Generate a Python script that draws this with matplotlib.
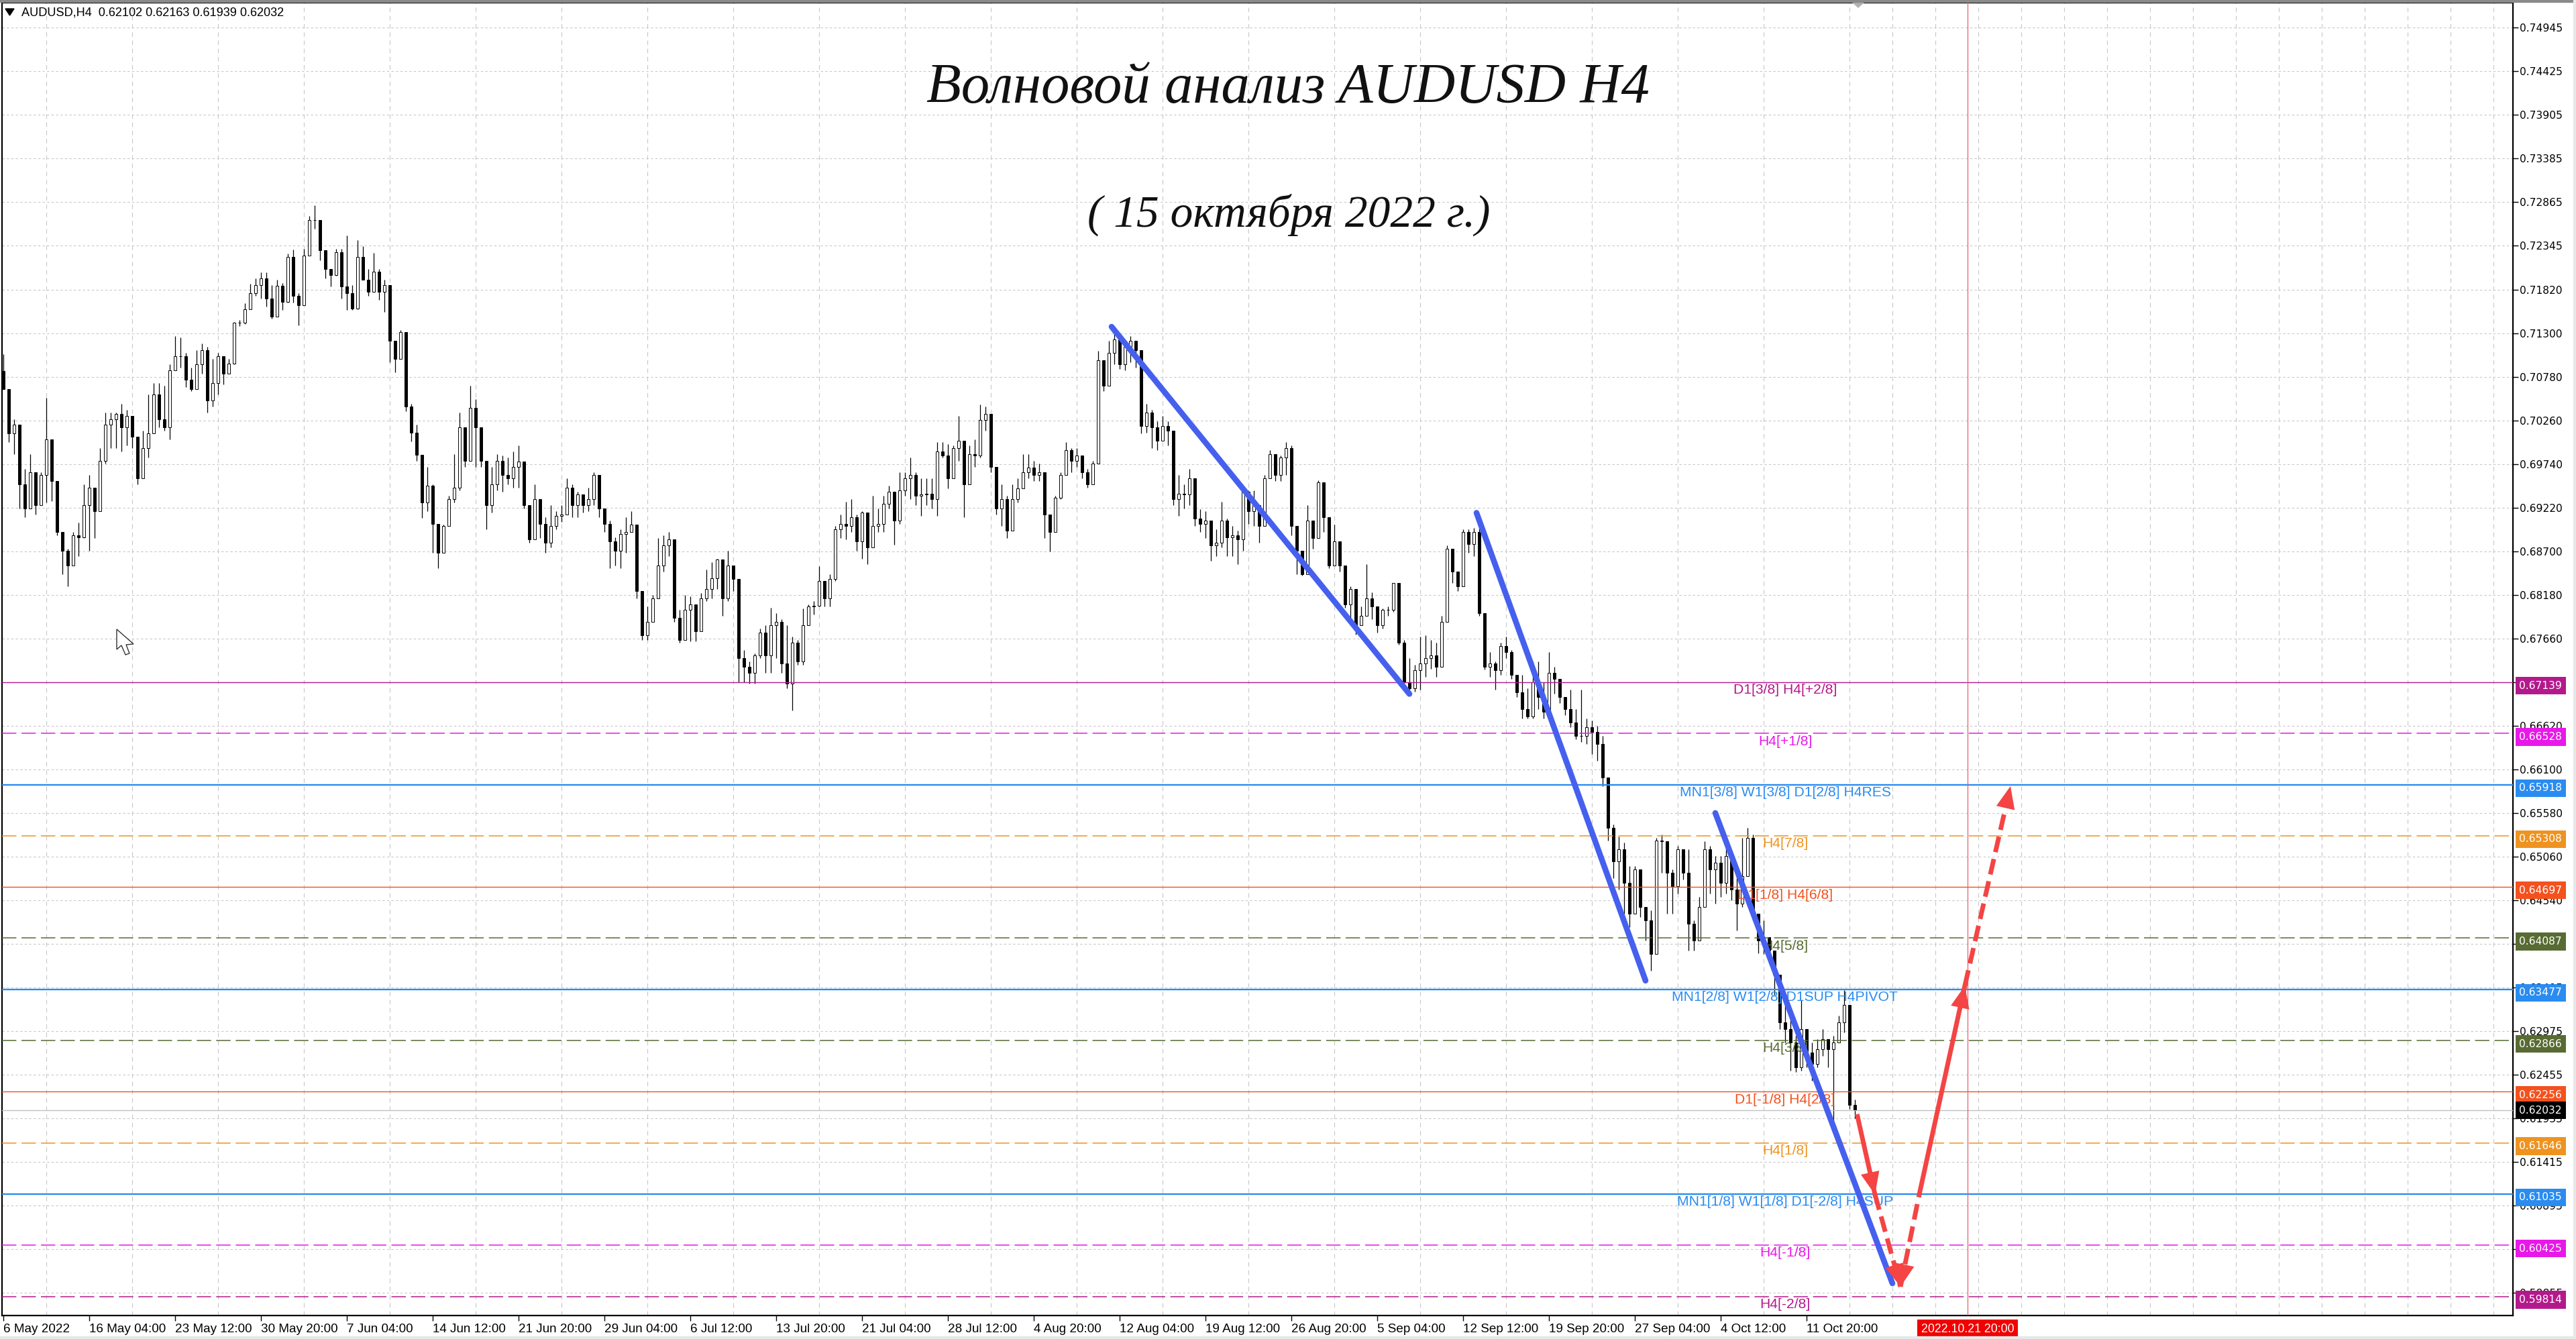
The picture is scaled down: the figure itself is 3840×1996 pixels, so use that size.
import numpy as np
import matplotlib
matplotlib.use('Agg')
import matplotlib.pyplot as plt
from matplotlib.patches import Polygon, Rectangle

W, H = 3840, 1996

# H4 candles, one candle for every second bar
close = [
    .7064, .7011, .7021, .6950, .6921, .6964, .6925, .6961, .7004, .6954,
    .6893, .6871, .6853, .6889, .6887, .6925, .6946, .6918, .6978, .7021,
    .7028, .7034, .7018, .7032, .7007, .6957, .6993, .7011, .7057, .7028,
    .7018, .7086, .7103, .7103, .7075, .7064, .7093, .7110, .7050, .7071,
    .7103, .7082, .7094, .7143, .7143, .7159,
    .7178, .7188, .7196, .7172, .7150, .7187, .7168, .7221, .7175, .7164,
    .7223, .7265, .7265, .7229, .7207, .7200, .7227, .7186, .7178, .7160,
    .7221, .7194, .7180, .7204, .7180, .7188, .7121,
    .7100, .7132, .7043, .7012, .6985, .6928, .6948, .6903, .6868, .6900,
    .6932, .6946, .7018, .6978, .7041, .7018, .6978, .6925, .6950, .6978,
    .6961, .6957, .6971, .6977, .6925, .6884, .6932, .6903, .6880, .6900,
    .6912, .6914, .6946, .6925, .6938, .6925, .6932, .6961, .6921, .6903,
    .6882, .6871, .6891, .6893, .6902, .6823, .6770, .6786, .6814, .6853,
    .6877, .6884, .6791, .6764, .6800, .6807, .6775, .6814, .6825, .6838,
    .6860, .6814, .6853, .6837, .6743, .6732, .6725, .6746, .6773, .6746,
    .6782, .6786, .6736, .6712, .6761, .6739, .6782, .6804, .6805, .6835,
    .6814, .6837, .6896, .6903, .6900, .6911, .6882, .6916, .6875,
    .6900, .6903, .6927, .6941, .6907, .6943, .6957, .6961, .6936, .6938,
    .6939, .6932, .6989, .6984, .6957, .6993, .7002, .6950, .6986, .6984,
    .7027, .7034, .6971, .6921, .6932, .6895, .6932, .6945, .6964, .6970,
    .6961, .6964, .6914, .6893, .6934, .6961, .6991, .6978, .6984, .6964,
    .6950, .6975, .7098, .7068, .7107, .7123, .7093, .7114, .7121, .7110,
    .7020, .7036, .7018, .7002, .7020, .7014, .6932, .6939, .6938, .6957,
    .6909, .6903, .6907, .6877, .6880, .6907, .6887, .6889, .6884, .6941,
    .6918, .6925, .6900, .6957, .6986, .6961, .6982, .6993, .6900, .6871,
    .6843, .6907, .6886, .6952, .6911, .6853, .6882, .6853, .6807, .6825,
    .6782, .6793, .6814, .6804, .6782, .6800, .6800, .6832, .6761, .6714,
    .6707, .6728, .6736, .6743, .6746, .6732, .6786, .6873, .6846, .6828,
    .6893, .6879, .6893, .6796, .6732, .6736, .6728, .6757, .6750, .6723,
    .6702, .6682, .6673, .6714, .6696, .6679, .6725, .6718, .6696, .6682,
    .6666, .6650,
    .6650, .6660, .6655, .6640, .6600, .6540,
    .6500, .6515, .6475, .6438, .6491, .6446, .6430, .6390, .6525, .6524,
    .6487, .6471, .6515, .6487, .6426, .6406, .6446, .6515, .6491, .6499,
    .6475, .6507, .6467, .6450, .6483, .6528, .6438, .6406, .6410, .6394,
    .6365, .6308, .6300, .6284, .6255, .6300, .6272, .6259, .6276, .6288,
    .6276, .6284, .6308, .6329, .62102, .62032,
]
high = [
    .7105, .7064, .7028, .6993, .6968, .6986, .6964, .6964, .7053, .6961,
    .6939, .6893, .6873, .6893, .6904, .6950, .6961, .6932, .6993, .7036,
    .7036, .7036, .7046, .7039, .7021, .7007, .7014, .7057, .7071, .7071,
    .7068, .7093, .7127, .7125, .7107, .7089, .7110, .7118, .7114, .7100,
    .7107, .7096, .7100, .7144, .7146, .7166,
    .7189, .7196, .7203, .7203, .7188, .7194, .7190, .7225, .7230, .7178,
    .7231, .7270, .7283, .7261, .7220, .7207, .7231, .7231, .7247, .7188,
    .7241, .7234, .7207, .7226, .7207, .7194, .7147,
    .7104, .7134, .7132, .7046, .7021, .6985, .6971, .6950, .6903, .6902,
    .6936, .6986, .7036, .7018, .7068, .7052, .6996, .6978, .6971, .6986,
    .6984, .6982, .6989, .6996, .6964, .6925, .6950, .6925, .6911, .6925,
    .6918, .6925, .6957, .6950, .6941, .6932, .6946, .6964, .6954, .6921,
    .6907, .6887, .6896, .6911, .6918, .6893, .6823, .6804, .6818, .6886,
    .6889, .6893, .6884, .6800, .6818, .6816, .6796, .6820, .6848, .6857,
    .6861, .6843, .6871, .6850, .6825, .6752, .6739, .6748, .6778, .6782,
    .6803, .6796, .6789, .6782, .6768, .6764, .6802, .6807, .6811, .6852,
    .6835, .6843, .6900, .6914, .6929, .6932, .6914, .6918, .6914,
    .6936, .6921, .6936, .6948, .6936, .6964, .6964, .6982, .6964, .6957,
    .6957, .6957, .7000, .7000, .6998, .6996, .7032, .7002, .6996, .7004,
    .7045, .7043, .7021, .6964, .6950, .6936, .6950, .6957, .6986, .6986,
    .6978, .6975, .6964, .6914, .6936, .6964, .7000, .6993, .6993, .6978,
    .6968, .6978, .7109, .7089, .7121, .7137, .7127, .7121, .7127, .7121,
    .7110, .7046, .7039, .7025, .7032, .7025, .7014, .6961, .6950, .6968,
    .6957, .6920, .6918, .6907, .6896, .6929, .6909, .6900, .6895, .6945,
    .6943, .6943, .6925, .6961, .6991, .6986, .6984, .7000, .6996, .6900,
    .6871, .6925, .6907, .6955, .6948, .6902, .6902, .6868, .6846, .6828,
    .6814, .6804, .6855, .6821, .6804, .6802, .6804, .6832, .6814, .6764,
    .6743, .6735, .6768, .6770, .6764, .6761, .6793, .6877, .6852, .6846,
    .6896, .6896, .6898, .6898, .6796, .6750, .6739, .6761, .6768, .6752,
    .6723, .6723, .6707, .6739, .6739, .6714, .6750, .6732, .6718, .6696,
    .6705, .6682,
    .6705, .6671, .6668, .6662, .6650, .6600,
    .6544, .6530, .6523, .6495, .6495, .6491, .6442, .6442, .6528, .6532,
    .6515, .6491, .6519, .6515, .6515, .6430, .6458, .6524, .6519, .6507,
    .6507, .6524, .6507, .6495, .6528, .6540, .6532, .6434, .6430, .6410,
    .6381, .6349, .6329, .6320, .6292, .6335, .6300, .6284, .6288, .6300,
    .6288, .6292, .6316, .6347, .6325, .62163,
]
low = [
    .7064, .7000, .6986, .6921, .6911, .6928, .6914, .6928, .6928, .6930,
    .6889, .6843, .6828, .6853, .6864, .6886, .6871, .6886, .6943, .6975,
    .6993, .6993, .6989, .6996, .6993, .6950, .6957, .6982, .7021, .7018,
    .7014, .7004, .7086, .7089, .7066, .7061, .7064, .7082, .7036, .7043,
    .7057, .7069, .7082, .7093, .7139, .7141,
    .7175, .7175, .7172, .7162, .7148, .7150, .7158, .7167, .7167, .7140,
    .7183, .7223, .7255, .7217, .7196, .7186, .7199, .7172, .7158, .7158,
    .7159, .7194, .7175, .7180, .7170, .7156, .7096,
    .7084, .7100, .7037, .7001, .6978, .6910, .6918, .6868, .6850, .6868,
    .6900, .6928, .6943, .6971, .6978, .6971, .6971, .6896, .6916, .6943,
    .6941, .6950, .6946, .6946, .6921, .6880, .6903, .6886, .6868, .6875,
    .6896, .6905, .6914, .6911, .6911, .6916, .6918, .6925, .6911, .6893,
    .6850, .6853, .6850, .6868, .6893, .6814, .6764, .6764, .6793, .6814,
    .6846, .6864, .6786, .6761, .6778, .6763, .6763, .6778, .6811, .6814,
    .6825, .6793, .6811, .6823, .6714, .6714, .6712, .6712, .6743, .6725,
    .6725, .6743, .6725, .6707, .6680, .6735, .6735, .6782, .6795, .6804,
    .6804, .6804, .6835, .6886, .6884, .6893, .6871, .6861, .6855,
    .6889, .6893, .6893, .6921, .6878, .6903, .6936, .6932, .6925, .6912,
    .6925, .6921, .6912, .6982, .6945, .6961, .6978, .6911, .6950, .6971,
    .6982, .7014, .6964, .6914, .6900, .6886, .6903, .6928, .6950, .6957,
    .6954, .6954, .6886, .6870, .6907, .6932, .6961, .6964, .6971, .6957,
    .6946, .6957, .7050, .7061, .7089, .7093, .7088, .7086, .7096, .7089,
    .7011, .7012, .6993, .6991, .7004, .6996, .6925, .6912, .6921, .6925,
    .6900, .6893, .6886, .6859, .6864, .6875, .6864, .6864, .6855, .6871,
    .6903, .6900, .6880, .6911, .6957, .6954, .6954, .6961, .6889, .6843,
    .6841, .6853, .6873, .6886, .6893, .6850, .6859, .6846, .6803, .6786,
    .6771, .6782, .6793, .6789, .6773, .6778, .6793, .6798, .6759, .6707,
    .6700, .6703, .6705, .6720, .6730, .6720, .6732, .6823, .6832, .6823,
    .6835, .6868, .6864, .6793, .6729, .6720, .6705, .6723, .6743, .6718,
    .6696, .6671, .6671, .6671, .6682, .6671, .6696, .6700, .6689, .6675,
    .6660, .6646,
    .6643, .6640, .6628, .6620, .6590, .6525,
    .6480, .6467, .6438, .6422, .6446, .6434, .6406, .6370, .6390, .6487,
    .6438, .6438, .6462, .6479, .6394, .6394, .6422, .6462, .6462, .6450,
    .6458, .6462, .6454, .6418, .6446, .6483, .6430, .6391, .6390, .6381,
    .6341, .6300, .6284, .6251, .6249, .6251, .6255, .6239, .6255, .6268,
    .6255, .6182, .6284, .6296, .6205, .61939,
]
first_open = .7085

price_ticks = [.74945, .74425, .73905, .73385, .72865, .72345, .71820, .71300, .70780, .70260,
               .69740, .69220, .68700, .68180, .67660, .67140, .66620, .66100, .65580, .65060,
               .64540, .64020, .63495, .62975, .62455, .61935, .61415, .60895, .60375, .59855]
date_labels = ['6 May 2022', '16 May 04:00', '23 May 12:00', '30 May 20:00', '7 Jun 04:00',
               '14 Jun 12:00', '21 Jun 20:00', '29 Jun 04:00', '6 Jul 12:00', '13 Jul 20:00',
               '21 Jul 04:00', '28 Jul 12:00', '4 Aug 20:00', '12 Aug 04:00', '19 Aug 12:00',
               '26 Aug 20:00', '5 Sep 04:00', '12 Sep 12:00', '19 Sep 20:00', '27 Sep 04:00',
               '4 Oct 12:00', '11 Oct 20:00']

# murrey levels
level_prices = [.67139, .66528, .65918, .65308, .64697, .64087, .63477, .62866, .62256, .61646, .61035, .60425, .59814]
level_names = ['D1[3/8] H4[+2/8]', 'H4[+1/8]', 'MN1[3/8] W1[3/8] D1[2/8] H4RES', 'H4[7/8]', 'D1[1/8] H4[6/8]',
               'H4[5/8]', 'MN1[2/8] W1[2/8] D1SUP H4PIVOT', 'H4[3/8]', 'D1[-1/8] H4[2/8]', 'H4[1/8]',
               'MN1[1/8] W1[1/8] D1[-2/8] H4SUP', 'H4[-1/8]', 'H4[-2/8]']
level_colors = ['#b4198c', '#e818e8', '#2a8cf0', '#ee9320', '#f4511e', '#586b32', '#2a8cf0', '#586b32',
                '#f4511e', '#ee9320', '#2a8cf0', '#e818e8', '#b4198c']
level_widths = [1.0, 1.1, 1.7, 1.1, 1.0, 1.1, 1.7, 1.1, 1.0, 1.1, 1.7, 1.1, 1.1]
level_dashed = [False, True, False, True, False, True, False, True, False, True, False, True, True]

# drawn wave lines: bar number and price of both ends
wave_bars = [(413, 524), (549, 612), (638, 704)]
wave_prices = [(.7138, .6700), (.6916, .6358), (.6558, .5997)]
# forecast arrows: bar, price, solid/dashed
path_bars = [691, 697.5, 707, 714, 731, 748]
path_prices = [.6196, .6103, .5993, .6103, .6352, .6590]
path_dashed = [False, True, True, False, True]

cursor_bar = 732
last_price = .62032

plt.rcParams['font.family'] = ['DejaVu Sans']

fig = plt.figure(figsize=(W / 100, H / 100), dpi=100, facecolor='white')
ax = fig.add_axes([3 / W, 1 - 1961 / H, (3746 - 3) / W, (1961 - 4) / H])


def px(x, y):
    return x / W, 1 - y / H


x = np.arange(len(close)) * 2
close_a = np.array(close)
open_a = np.r_[first_open, close_a[:-1]]
up = close_a >= open_a

ax.vlines(x, low, high, color='black', lw=0.9, zorder=2)
ax.bar(x, np.abs(close_a - open_a), bottom=np.minimum(open_a, close_a), width=0.95,
       facecolor=np.where(up, 'white', 'black'), edgecolor='black', linewidth=0.7, zorder=3)

ax.set_xlim(-0.5, 935.25)
ax.set_ylim(.59586, .75245)
ax.set_axisbelow(True)
ax.yaxis.tick_right()
ax.set_yticks(price_ticks)
ax.set_yticklabels(['%.5f' % p for p in price_ticks], fontsize=11.2)
ax.set_xticks(np.arange(len(date_labels)) * 32)
ax.set_xticklabels(date_labels, fontsize=13.6, ha='left', family='Liberation Sans')
ax.tick_params(axis='y', length=5.5, width=1, pad=1.5)
ax.tick_params(axis='x', length=5.5, width=1, pad=3.5)
ax.set_xticks(np.arange(0, 936, 16), minor=True)
ax.tick_params(axis='x', which='minor', length=0)
ax.grid(True, axis='y', color='#c8c8c8', lw=0.8, ls=(0, (3, 3)))
ax.grid(True, axis='x', which='minor', color='#c8c8c8', lw=0.8, ls=(0, (6, 5)))
for s in ax.spines.values():
    s.set_linewidth(1.6)

# horizontal levels and their price boxes
ax.axhline(last_price, color='#c0c0c0', lw=1.0, zorder=3.5)
for p, name, c, lw, d in zip(level_prices, level_names, level_colors, level_widths, level_dashed):
    ax.plot([0, 1], [p, p], transform=ax.get_yaxis_transform(), color=c, lw=lw, zorder=4,
            ls=(0, (14, 5)) if d else '-', dash_capstyle='butt')
    ax.annotate(name, xy=(664, p), xytext=(0, -8.5), textcoords='offset points', ha='center', va='center',
                color=c, fontsize=15.2, zorder=5, family='Liberation Sans')
    ax.annotate('%.5f' % p, xy=(1, p), xycoords=ax.get_yaxis_transform(), xytext=(6.8, -3.6),
                textcoords='offset points', va='center', ha='left', color='white', fontsize=11.2, zorder=20,
                annotation_clip=False,
                bbox=dict(boxstyle='square,pad=0.36', facecolor=c, edgecolor='none'))
ax.annotate('%.5f' % last_price, xy=(1, last_price), xycoords=ax.get_yaxis_transform(), xytext=(6.8, 0),
            textcoords='offset points', va='center', ha='left', color='white', fontsize=11.2, zorder=21,
            annotation_clip=False, bbox=dict(boxstyle='square,pad=0.36', facecolor='black', edgecolor='none'))

# crosshair
ax.axvline(cursor_bar, color='#e2606e', lw=0.9, zorder=4)
ax.annotate('2022.10.21 20:00', xy=(cursor_bar, 0), xycoords=ax.get_xaxis_transform(), xytext=(0, -14.5),
            textcoords='offset points', ha='center', va='center', color='white', fontsize=12.8, zorder=20,
            family='Liberation Sans', annotation_clip=False,
            bbox=dict(boxstyle='square,pad=0.3', facecolor='#f00000', edgecolor='none'))

# wave lines
for bars, prices in zip(wave_bars, wave_prices):
    ax.plot(bars, prices, color='#4660ee', lw=6.2, solid_capstyle='round', zorder=6)

# forecast path
for i, dashed in enumerate(path_dashed):
    x0, x1 = path_bars[i], path_bars[i + 1]
    y0, y1 = path_prices[i], path_prices[i + 1]
    ax.plot([x0, x1], [y0, y1], color='#f44444', lw=5.0, zorder=7,
            ls=(0, (3.4, 1.5)) if dashed else '-', dash_capstyle='butt')
    if i != 2:
        ax.annotate('', xy=(x1, y1), xytext=(x1 - (x1 - x0) * 0.02, y1 - (y1 - y0) * 0.02),
                    arrowprops=dict(arrowstyle='-|>,head_length=1.0,head_width=0.42', color='#f44444',
                                    mutation_scale=24, lw=0, shrinkA=0, shrinkB=0), zorder=8)
    else:
        ax.annotate('', xy=(x0, y0), xytext=(x0 + (x1 - x0) * 0.02, y0 + (y1 - y0) * 0.02),
                    arrowprops=dict(arrowstyle='-|>,head_length=1.0,head_width=0.42', color='#f44444',
                                    mutation_scale=24, lw=0, shrinkA=0, shrinkB=0), zorder=8)

# chart header and titles
fig.text(*px(32, 19), 'AUDUSD,H4  0.62102 0.62163 0.61939 0.62032', fontsize=13.1, va='center', ha='left',
         family='Liberation Sans')
fig.text(*px(1920, 132), 'Волновой анализ AUDUSD H4', family='Liberation Serif', style='italic', fontsize=61,
         ha='center', va='center', color='#111111')
fig.text(*px(1921, 320), '( 15 октября 2022 г.)', family='Liberation Serif', style='italic', fontsize=48.5,
         ha='center', va='center', color='#111111')

# window furniture: header triangle, shift marker, mouse pointer, borders
fig.add_artist(Polygon([px(8, 13), px(21, 13), px(14.5, 23)], closed=True, transform=fig.transFigure, color='black'))
fig.add_artist(Polygon([px(2758, 0), px(2782, 0), px(2770, 11)], closed=True, transform=fig.transFigure,
                       color='#b0b0b0'))
cursor_pts = [(174, 938), (174, 968), (181, 962), (187, 976), (193, 974), (188, 961), (199, 960)]
fig.add_artist(Polygon([px(a, b) for a, b in cursor_pts], closed=True, transform=fig.transFigure,
                       facecolor='white', edgecolor='#333333', lw=1))
fig.add_artist(Rectangle(px(0, 3), 1, 3 / H, transform=fig.transFigure, color='#8a8a8a'))
fig.add_artist(Rectangle(px(0, 1996), 1, 4 / H, transform=fig.transFigure, color='#e8e8e8'))
fig.add_artist(Rectangle(px(3836, 1996), 4 / W, 1, transform=fig.transFigure, color='#e8e8e8'))

fig.savefig('out.png', dpi=100)
